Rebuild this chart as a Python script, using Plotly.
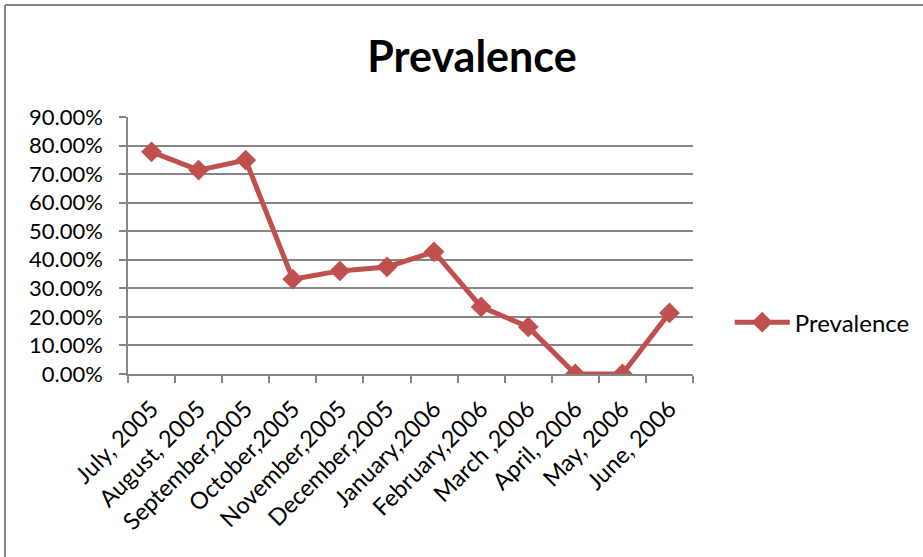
import plotly.graph_objects as go

months = ["July, 2005", "August, 2005", "September,2005", "October,2005",
          "November,2005", "December,2005", "January,2006", "February,2006",
          "March ,2006", "April, 2006", "May, 2006", "June, 2006"]
prevalence = [77.8, 71.4, 74.9, 33.2, 36.1, 37.5, 42.8, 23.5, 16.5, 0.0, 0.0, 21.4]
y_ticks = [0, 10, 20, 30, 40, 50, 60, 70, 80, 90]
y_tick_text = [f"{v:.2f}%" for v in y_ticks]

RED = "#C0504D"
GRAY = "#868686"
FONT = "Lato, Open Sans, sans-serif"

fig = go.Figure(go.Scatter(
    x=months, y=prevalence, mode="lines+markers", name="Prevalence",
    line=dict(color=RED, width=5),
    marker=dict(symbol="diamond", size=16, color=RED),
))

fig.update_layout(
    width=923, height=557,
    margin=dict(l=128, r=230, t=117, b=183, autoexpand=False),
    paper_bgcolor="white", plot_bgcolor="white",
    font=dict(family=FONT, size=22, color="black"),
    title=dict(text="<b>Prevalence</b>", x=472 / 923, xanchor="center",
               y=1 - 57 / 557, yanchor="middle",
               font=dict(family=FONT, size=43, color="black")),
    showlegend=True,
    legend=dict(x=1.065, y=0.2, xanchor="left", yanchor="middle",
                font=dict(size=24), itemwidth=55, bgcolor="rgba(0,0,0,0)"),
    xaxis=dict(type="category", range=[-0.5, len(months) - 0.5],
               automargin=False,
               tickangle=-45, tickson="boundaries",
               ticks="outside", ticklen=7, tickcolor=GRAY, tickwidth=1.5,
               ticklabelstandoff=10,
               showline=True, linecolor=GRAY, linewidth=1.5,
               showgrid=False, tickfont=dict(size=23.5)),
    yaxis=dict(range=[0, 90], tickvals=y_ticks, ticktext=y_tick_text,
               automargin=False,
               ticks="outside", ticklen=7, tickcolor=GRAY, tickwidth=1.5,
               ticklabelstandoff=12,
               showline=True, linecolor=GRAY, linewidth=1.5,
               showgrid=True, gridcolor=GRAY, gridwidth=1.5,
               zeroline=False, tickfont=dict(size=22)),
)

# outer frame of the chart area (left and top edges)
fx0 = (5 - 128) / 565
fy1 = (374 - 5) / 257
fx1 = (923 - 128) / 565
fy0 = (374 - 560) / 257
fig.add_shape(type="line", xref="paper", yref="paper", x0=fx0, x1=fx1, y0=fy1, y1=fy1,
              line=dict(color=GRAY, width=2))
fig.add_shape(type="line", xref="paper", yref="paper", x0=fx0, x1=fx0, y0=fy0, y1=fy1,
              line=dict(color=GRAY, width=2))

fig.write_html("out.html")
